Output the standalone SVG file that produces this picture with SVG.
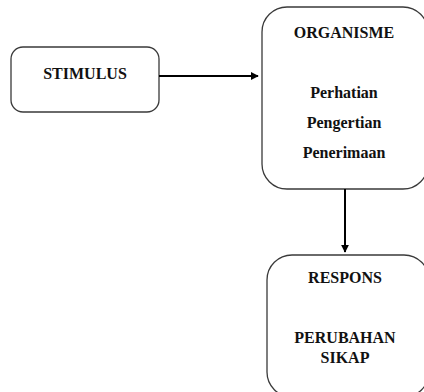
<svg xmlns="http://www.w3.org/2000/svg" width="424" height="392" viewBox="0 0 424 392">
<defs>
<style>
.box{fill:#fff;stroke:#3a3a3a;stroke-width:1.3}
.t{font-family:"Liberation Serif","Times New Roman",serif;font-weight:bold;font-size:16px;fill:#111;text-anchor:middle}
.c{stroke:#000;stroke-width:2;fill:none}
</style>
<marker id="ah" viewBox="0 0 10 10" refX="9" refY="5" markerWidth="4" markerHeight="4" orient="auto" markerUnits="strokeWidth">
<path d="M0,0 L10,5 L0,10 z" fill="#000"/>
</marker>
</defs>
<rect width="424" height="392" fill="#fff"/>
<g id="stimulus">
<rect class="box" x="11" y="47" width="148" height="65" rx="12"/>
<text class="t" x="85" y="79">STIMULUS</text>
</g>
<g id="organisme">
<rect class="box" x="262" y="7" width="166" height="182" rx="25"/>
<text class="t" x="344" y="38">ORGANISME</text>
<text class="t" x="344" y="98">Perhatian</text>
<text class="t" x="344" y="128">Pengertian</text>
<text class="t" x="344" y="158">Penerimaan</text>
</g>
<g id="respons">
<rect class="box" x="267" y="255" width="162" height="142" rx="25"/>
<text class="t" x="345" y="283">RESPONS</text>
<text class="t" x="345" y="343">PERUBAHAN</text>
<text class="t" x="345" y="363">SIKAP</text>
</g>
<g id="connectors">
<line class="c" x1="159" y1="76" x2="258" y2="76" marker-end="url(#ah)"/>
<line class="c" x1="345" y1="189" x2="345" y2="252" marker-end="url(#ah)"/>
</g>
</svg>
